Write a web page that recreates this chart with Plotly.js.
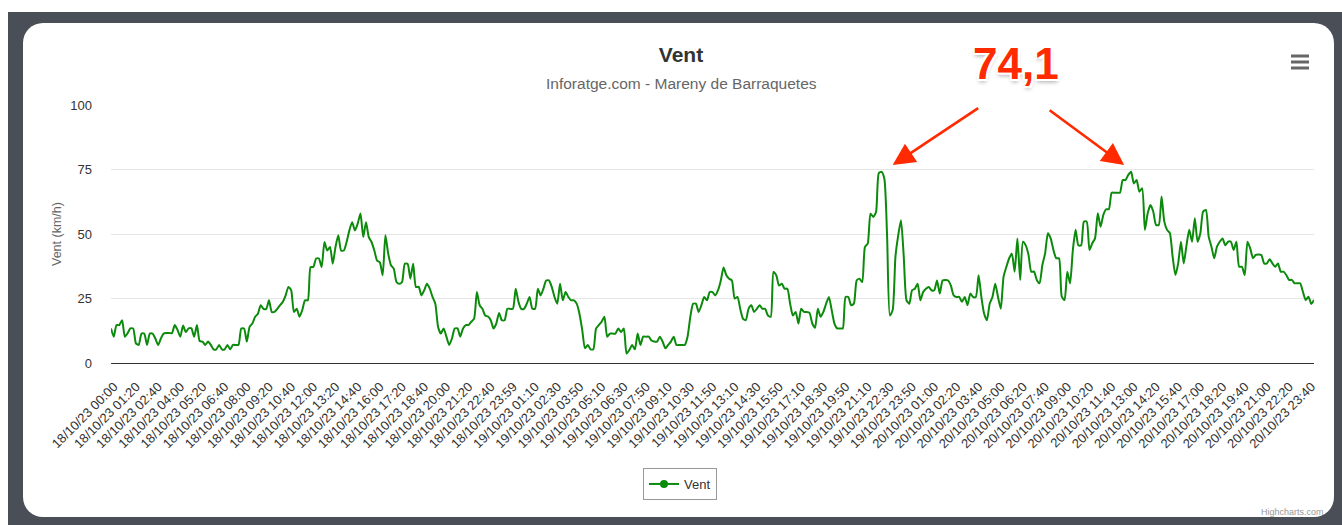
<!DOCTYPE html>
<html>
<head>
<meta charset="utf-8">
<script src="https://cdn.plot.ly/plotly-3.0.1.min.js"></script>
<style>
  html, body { margin: 0; padding: 0; background: #ffffff; width: 1342px; height: 525px; overflow: hidden; }
  #frame { position: absolute; left: 8px; top: 12px; width: 1334px; height: 513px; background: #4a4e57; }
  #card { position: absolute; left: 23px; top: 23px; width: 1311px; height: 494px; background: #ffffff; border-radius: 20px; }
  #chart { position: absolute; left: 0; top: 0; width: 1342px; height: 525px; }
</style>
</head>
<body>
<div id="frame"></div>
<div id="card"></div>
<div id="chart"></div>
<script>
// Wind speed (km/h), 10-minute readings, split by day
const windDay18 = [
  13.4,10.2,14.7,14.7,16.6,10.2,11.6,13.4,13.4,7.6,
  7,11.4,11.4,7,11.4,11.4,9.5,7,9.5,11.4,
  11.6,11.6,11.6,14.7,12.8,10.2,14.5,12,13.4,13.4,
  10.2,14.7,8.5,8.3,7,8.3,7,5.3,5.3,7,
  5.3,5.3,7,5.3,7,7,7,13.4,13.4,8.3,
  14,15.3,17.9,19.1,22.4,21,21,24.3,19.8,19.8,
  21,22.4,23.7,26.2,29.5,28.2,19.8,21,17.9,20.5,
  24.3,24.3,37.2,37.2,40.5,40.5,37.2,46.9,43.6,45,
  38.5,45,49.5,43.6,43.6,46.9,51.4,54.6,51.4,54,
  57.9,48.8,54.6,48.8,46.9,43.6,39.7,39,34,49.5,
  42.4,37.9,36.6,31.4,30.7,31.4,38.5,38.5,32.7,38.5,
  29.5,29.5,26.2,28.2,30.7,28.8,25.6,23,14,11.4,
  13.4,10.2,7,9.5,13.4,13.4,10.2,13.4,14.7,14.7,
  16,17.2,27.5,22.4,21,18.4,18,16.6,13.4,15.3,
  19.4,16.6,16.6,21,21
];
const windDay19 = [
  21,28.8,23.7,21,21,
  23,25.6,21,21,28.8,26.2,28.8,32,32,29.5,
  25.6,23,30.7,24.3,27.5,25.6,24.3,24.3,23,19.1,
  12.8,5.7,7,5.3,5.3,13.4,14.7,16,17.9,10.2,
  11.4,11.4,11.4,13.4,12,13.4,3.7,5,7,5.3,
  11.4,7,10.2,10.2,10.2,8.7,8.3,8.3,10.2,8.3,
  5.7,7,8.3,10.2,7,7,7,7,10.2,17.9,
  23,23,19.8,22.4,25.6,24.3,27.5,27.5,26.2,28.2,
  32,37,34,32.7,32,25,25.6,21,17.2,16.6,
  21,22.4,19.8,21,22.4,21,21,18.4,17.9,35.3,
  34,30,30.7,28.8,28.8,23,18.4,19.8,15.3,21,
  19.8,19.8,19.4,15.3,13.7,21,17.9,19.8,23,25.6,
  20.5,15.3,13.4,13.4,13.4,25.6,25.6,22.4,23,32,
  32.7,31.4,45,46.3,57.9,56.6,58.5,73.6,74.1,71.4,
  48.8,18.4,20.5,41.2,49.5,55.3,41.2,24.3,23,28.2
];
const windDay20 = [
  28.8,30.7,24.3,27.5,28.8,29.5,28.2,28.2,32,26.9,
  32,32.2,32,30,26.2,25.6,25.6,23.7,25.6,22.4,
  26.9,25.6,25.6,34,25.6,19.1,16.6,23,25.6,30.7,
  25.6,21,33.4,37.2,40.5,42.4,35.4,
  48.3,32.2,47,45.6,41.9,35.4,35.4,32.2,30.9,38,
  42.5,50.3,48.3,43.8,40.6,40.6,25.7,24.4,35.4,30.9,
  43.8,51.6,45.6,45.6,54.8,54.8,43.8,46.4,48.3,58,
  52.8,57.4,59.6,59.6,66,66,66,66,70.9,70.9,
  72.9,74.1,69.6,70.9,66.4,67.7,51.6,58,61.2,58.7,
  53.5,53.5,64.5,54.8,51.6,50.3,41.2,34.1,38.6,47,
  38.6,45.6,51.6,47,56.1,47,50.3,58.7,59.3,49,
  45.1,40.6,45.1,47,48.3,45.6,47,47,43.8,47,
  37.3,37.3,34.1,47,44.4,40.6,41.9,42.1,41.9,38.6,
  38.6,40.2,38.6,37.3,38.6,35.4,35.4,34.1,32.2,32.2,
  30.9,30.9,30.9,27.6,24.4,25.7,22.9,24.4
];
// Visible category labels (every 8th reading)
const tickLabels = [
  "18/10/23 00:00","18/10/23 01:20","18/10/23 02:40","18/10/23 04:00","18/10/23 05:20","18/10/23 06:40",
  "18/10/23 08:00","18/10/23 09:20","18/10/23 10:40","18/10/23 12:00","18/10/23 13:20","18/10/23 14:40",
  "18/10/23 16:00","18/10/23 17:20","18/10/23 18:40","18/10/23 20:00","18/10/23 21:20","18/10/23 22:40",
  "18/10/23 23:59",
  "19/10/23 01:10","19/10/23 02:30","19/10/23 03:50","19/10/23 05:10","19/10/23 06:30","19/10/23 07:50",
  "19/10/23 09:10","19/10/23 10:30","19/10/23 11:50","19/10/23 13:10","19/10/23 14:30","19/10/23 15:50",
  "19/10/23 17:10","19/10/23 18:30","19/10/23 19:50","19/10/23 21:10","19/10/23 22:30","19/10/23 23:50",
  "20/10/23 01:00","20/10/23 02:20","20/10/23 03:40","20/10/23 05:00","20/10/23 06:20","20/10/23 07:40",
  "20/10/23 09:00","20/10/23 10:20","20/10/23 11:40","20/10/23 13:00","20/10/23 14:20","20/10/23 15:40",
  "20/10/23 17:00","20/10/23 18:20","20/10/23 19:40","20/10/23 21:00","20/10/23 22:20","20/10/23 23:40"
];
const yTicks = [0, 25, 50, 75, 100];
const peakLabel = "74,1";
const peakValue = 74.1;

const wind = windDay18.concat(windDay19, windDay20);
const xIdx = wind.map((_, i) => i);
const tickStep = 8;
const tickVals = tickLabels.map((_, k) => k * tickStep);
const peakIdx = [];
wind.forEach((v, i) => { if (v === peakValue) peakIdx.push(i); });

const FONT = "Liberation Sans, Arial, Helvetica, sans-serif";
const GREEN = "#0c8a0c";
const RED = "#ff2a00";

// plot geometry helpers (pixels -> paper)
const L = 111, R = 28, T = 105, B = 162, W = 1342, H = 525;
const pw = W - L - R, ph = H - T - B;
const px = x => (x - L) / pw;
const py = y => (H - B - y) / ph;

const traces = [
  { x: xIdx, y: wind, type: "scatter", mode: "lines", name: "Vent", showlegend: false,
    line: { color: GREEN, width: 2, shape: "spline", smoothing: 0.6 } },
  { x: [null], y: [null], type: "scatter", mode: "lines+markers", name: "Vent",
    line: { color: GREEN, width: 2 }, marker: { color: GREEN, size: 8 } }
];

const annotations = [
  { text: "Inforatge.com - Mareny de Barraquetes", xref: "paper", yref: "paper",
    x: px(681), y: py(83), xanchor: "center", yanchor: "middle", showarrow: false,
    font: { family: FONT, size: 15.5, color: "#666666" } },
  { text: "Vent (km/h)", xref: "paper", yref: "paper", x: px(57), y: py(234), textangle: -90,
    xanchor: "center", yanchor: "middle", showarrow: false,
    font: { family: FONT, size: 12.5, color: "#666666" } },
  { text: "Highcharts.com", xref: "paper", yref: "paper", x: px(1326), y: py(512),
    xanchor: "right", yanchor: "middle", showarrow: false,
    font: { family: FONT, size: 9, color: "#999999" } },
  { text: "<b>" + peakLabel + "</b>", xref: "paper", yref: "paper", x: px(1016), y: py(64),
    xanchor: "center", yanchor: "middle", showarrow: false,
    font: { family: FONT, size: 44, color: RED,
      shadow: "2px 2px 0 #fff, -2px -2px 0 #fff, 2px -2px 0 #fff, -2px 2px 0 #fff, 0 3px 4px rgba(0,0,0,0.35)" } },
  { text: "", xref: "x", yref: "y", x: peakIdx[0] + 4, y: peakValue + 2.6, ax: 87, ay: -58,
    showarrow: true, arrowhead: 2, arrowsize: 1.7, arrowwidth: 2.6, arrowcolor: RED, standoff: 0 },
  { text: "", xref: "x", yref: "y", x: peakIdx[1] - 2.5, y: peakValue + 2.6, ax: -76, ay: -56,
    showarrow: true, arrowhead: 2, arrowsize: 1.7, arrowwidth: 2.6, arrowcolor: RED, standoff: 0 }
];

const shapes = [56, 62, 68].map(yy => ({
  type: "line", xref: "paper", yref: "paper", x0: px(1291), x1: px(1309), y0: py(yy), y1: py(yy),
  line: { color: "#666666", width: 3 }
}));

const layout = {
  width: W, height: H,
  margin: { l: L, r: R, t: T, b: B, pad: 0 },
  paper_bgcolor: "rgba(0,0,0,0)", plot_bgcolor: "rgba(0,0,0,0)",
  font: { family: FONT, color: "#333333" },
  title: { text: "<b>Vent</b>", font: { family: FONT, size: 21, color: "#333333" },
    xref: "container", yref: "container", x: 681 / W, y: 1 - 55 / H, xanchor: "center", yanchor: "middle" },
  xaxis: { range: [0, wind.length - 1], tickvals: tickVals, ticktext: tickLabels, tickangle: -45,
    showgrid: false, zeroline: false, showline: true, linecolor: "#333333", linewidth: 1,
    ticks: "", ticklabelstandoff: 10, ticklabelshift: 3,
    tickfont: { family: FONT, size: 13, color: "#333333" }, automargin: false },
  yaxis: { range: [0, 100], tickvals: yTicks, showgrid: true, gridcolor: "#e6e6e6", gridwidth: 1,
    zeroline: false, showline: false, ticks: "", ticklabelstandoff: 18,
    tickfont: { family: FONT, size: 13, color: "#333333" }, automargin: false },
  showlegend: true,
  legend: { orientation: "h", x: px(680), xanchor: "center", y: py(468), yanchor: "top",
    bordercolor: "#999999", borderwidth: 1, bgcolor: "#ffffff", itemwidth: 30,
    font: { family: FONT, size: 13, color: "#333333" } },
  annotations: annotations,
  shapes: shapes
};

Plotly.newPlot("chart", traces, layout, { staticPlot: true, displayModeBar: false });
</script>
</body>
</html>
